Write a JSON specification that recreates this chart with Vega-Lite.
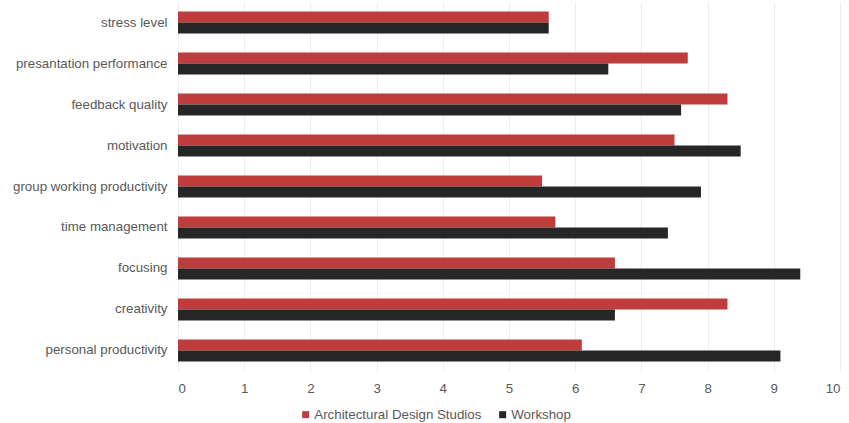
{
  "$schema": "https://vega.github.io/schema/vega-lite/v6.json",
  "width": 662,
  "height": 369,
  "autosize": {"type": "none"},
  "padding": {"left": 178, "top": 2, "right": 9, "bottom": 52},
  "background": "white",
  "config": {
    "view": {"stroke": null},
    "font": "Liberation Sans",
    "axis": {"labelFont": "Liberation Sans"},
    "legend": {"labelFont": "Liberation Sans"}
  },
  "data": {
    "values": [
      {"category": "stress level", "series": "Architectural Design Studios", "value": 5.6},
      {"category": "stress level", "series": "Workshop", "value": 5.6},
      {"category": "presantation performance", "series": "Architectural Design Studios", "value": 7.7},
      {"category": "presantation performance", "series": "Workshop", "value": 6.5},
      {"category": "feedback quality", "series": "Architectural Design Studios", "value": 8.3},
      {"category": "feedback quality", "series": "Workshop", "value": 7.6},
      {"category": "motivation", "series": "Architectural Design Studios", "value": 7.5},
      {"category": "motivation", "series": "Workshop", "value": 8.5},
      {"category": "group working productivity", "series": "Architectural Design Studios", "value": 5.5},
      {"category": "group working productivity", "series": "Workshop", "value": 7.9},
      {"category": "time management", "series": "Architectural Design Studios", "value": 5.7},
      {"category": "time management", "series": "Workshop", "value": 7.4},
      {"category": "focusing", "series": "Architectural Design Studios", "value": 6.6},
      {"category": "focusing", "series": "Workshop", "value": 9.4},
      {"category": "creativity", "series": "Architectural Design Studios", "value": 8.3},
      {"category": "creativity", "series": "Workshop", "value": 6.6},
      {"category": "personal productivity", "series": "Architectural Design Studios", "value": 6.1},
      {"category": "personal productivity", "series": "Workshop", "value": 9.1}
    ]
  },
  "mark": {"type": "bar"},
  "encoding": {
    "y": {
      "field": "category",
      "type": "nominal",
      "sort": null,
      "scale": {"paddingInner": 0.463, "paddingOuter": 0.2317},
      "axis": {
        "title": null,
        "domain": false,
        "ticks": false,
        "labelPadding": 11,
        "labelFontSize": 13.3,
        "labelColor": "#595959",
        "labelLimit": 300
      }
    },
    "yOffset": {"field": "series", "type": "nominal", "sort": null},
    "x": {
      "field": "value",
      "type": "quantitative",
      "scale": {"domain": [0, 10], "nice": false},
      "axis": {
        "title": null,
        "values": [0, 1, 2, 3, 4, 5, 6, 7, 8, 9, 10],
        "domain": false,
        "ticks": false,
        "grid": true,
        "gridColor": "#eeeeee",
        "labelPadding": 10,
        "labelFontSize": 13.3,
        "labelColor": "#595959"
      }
    },
    "color": {
      "field": "series",
      "type": "nominal",
      "sort": null,
      "scale": {"domain": ["Architectural Design Studios", "Workshop"], "range": ["#BE3C3C", "#262626"]},
      "legend": {
        "title": null,
        "orient": "none",
        "direction": "horizontal",
        "legendX": 121,
        "legendY": 406,
        "padding": 0,
        "symbolType": "square",
        "symbolSize": 49,
        "symbolStrokeWidth": 0,
        "labelOffset": 2,
        "labelLimit": 300,
        "columnPadding": 14,
        "labelFontSize": 13.3,
        "labelColor": "#595959"
      }
    }
  }
}
